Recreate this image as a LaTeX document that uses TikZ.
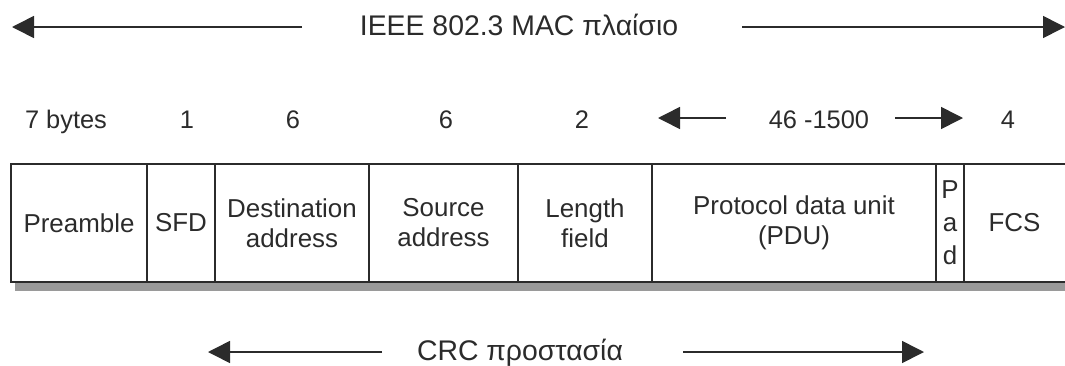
\documentclass[tikz,border=0pt]{standalone}
\usepackage{fontspec}
\setmainfont{Liberation Sans}
\usetikzlibrary{arrows.meta}
\definecolor{ink}{HTML}{2B2B2B}
\definecolor{shadowgray}{HTML}{9A9A9A}
\tikzset{
  lbl/.style={font=\fontsize{25.5}{30}\selectfont, text=ink, inner sep=0pt, anchor=base},
  big/.style={font=\fontsize{28.5}{32}\selectfont, text=ink, inner sep=0pt, anchor=base},
  cell/.style={draw=ink, line width=1.8bp, anchor=north west, minimum height=118bp, inner sep=0pt, outer sep=0pt, font=\fontsize{26}{30}\selectfont, text=ink, align=center},
  arr/.style={draw=ink, line width=1.6bp, -{Triangle[length=22bp,width=22bp]}},
}
\begin{document}
\begin{tikzpicture}[x=1bp,y=-1bp]
\useasboundingbox (0,0) rectangle (1065,365);
% title arrow
\node[big] (title) at (519,35) {IEEE 802.3 MAC πλαίσιο};
\coordinate (tls) at (302,27);
\coordinate (tle) at (12,27);
\coordinate (trs) at (742,27);
\coordinate (tre) at (1065,27);
\draw[arr] (tls) -- (tle);
\draw[arr] (trs) -- (tre);
% byte counts
\node[lbl] (b1) at (66,128) {7 bytes};
\node[lbl] (b2) at (187,128) {1};
\node[lbl] (b3) at (293,128) {6};
\node[lbl] (b4) at (446,128) {6};
\node[lbl] (b5) at (582,128) {2};
\node[lbl] (b6) at (819,128) {46 -1500};
\node[lbl] (b7) at (1008,128) {4};
\coordinate (pls) at (726,118);
\coordinate (ple) at (658,118);
\coordinate (prs) at (895,118);
\coordinate (pre) at (963,118);
\draw[arr] (pls) -- (ple);
\draw[arr] (prs) -- (pre);
% shadow
\fill[shadowgray] (15,283) rectangle (1065,291);
% cells
\node[cell, minimum width=136bp] (pream) at (11,164) {Preamble};
\node[cell, minimum width=68bp] (sfd) at (147,164) {SFD};
\node[cell, minimum width=154bp] (dst) at (215,164) {Destination\\address};
\node[cell, minimum width=149bp] (src) at (369,164) {Source\\address};
\node[cell, minimum width=134bp] (len) at (518,164) {Length\\field};
\node[cell, minimum width=284bp] (pdu) at (652,164) {Protocol data unit\\(PDU)};
\node[cell, minimum width=28bp, font=\fontsize{26}{33}\selectfont] (pad) at (936,164) {P\\a\\d};
\node[cell, draw=none, minimum width=101bp] (fcs) at (964,164) {FCS};
\draw[ink, line width=1.8bp] (fcs.north west) -- (fcs.north east);
\draw[ink, line width=1.8bp] (fcs.south west) -- (fcs.south east);
% CRC arrow
\node[big] (crc) at (520,360) {CRC προστασία};
\coordinate (cls) at (382,352);
\coordinate (cle) at (208,352);
\coordinate (crs) at (683,352);
\coordinate (cre) at (924,352);
\draw[arr] (cls) -- (cle);
\draw[arr] (crs) -- (cre);
\end{tikzpicture}
\end{document}
